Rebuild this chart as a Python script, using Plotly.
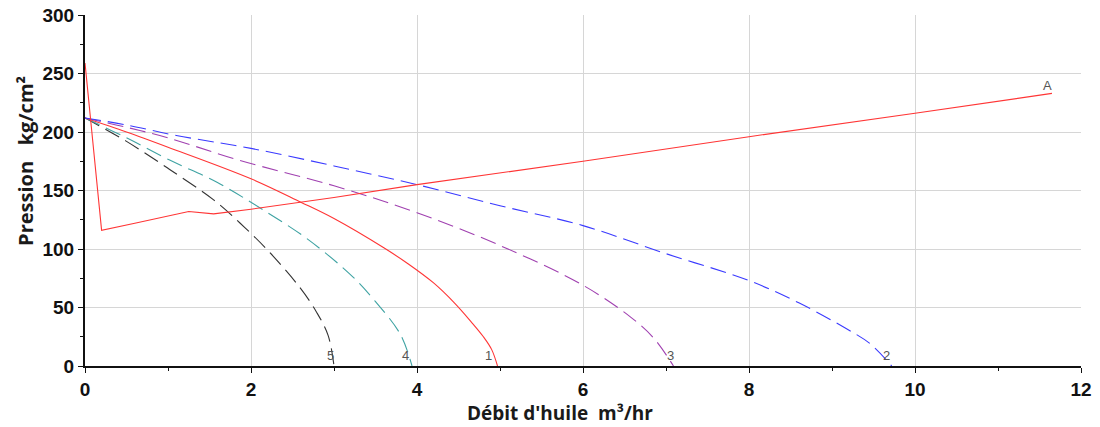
import plotly.graph_objects as go

# Curve 1 (red solid)
q1 = [0, 0.5, 1.0, 2.0, 2.6, 3.0, 3.6, 3.9, 4.2, 4.45, 4.65, 4.8, 4.9, 4.97]
p1 = [212, 200, 187, 160, 140, 126, 101, 87, 71, 54, 38, 25, 14, 0]
# Curve 2 (blue dashed)
q2 = [0, 0.5, 1.1, 2.0, 3.0, 4.0, 5.0, 6.0, 7.0, 8.0, 8.6, 9.17, 9.46, 9.72]
p2 = [212, 206, 197, 186, 171, 155, 137, 120, 96, 73, 54, 32, 19, 0]
# Curve 3 (purple dashed)
q3 = [0, 0.5, 1.0, 1.85, 3.0, 4.0, 5.0, 6.0, 6.57, 6.85, 7.09]
p3 = [212, 204, 195, 176, 154, 131, 103, 69, 42, 24, 0]
# Curve 4 (teal dashed)
q4 = [0, 0.5, 1.02, 1.59, 2.11, 2.69, 3.23, 3.5, 3.8, 3.94]
p4 = [212, 195, 176, 157, 135, 108, 76, 55, 27, 0]
# Curve 5 (black dashed)
q5 = [0, 0.5, 1.02, 1.55, 1.87, 2.2, 2.59, 2.79, 2.93, 3.0]
p5 = [212, 192, 168, 142, 122, 99, 67, 46, 26, 0]
# Curve A (red, system line)
qA = [0, 0.2, 0.6, 1.25, 1.55, 2.0, 3.0, 4.0, 6.0, 8.0, 10.0, 11.65]
pA = [259, 116, 122, 132, 130, 134, 144, 155, 175, 196, 216, 233]

label_text = ["5", "4", "1", "3", "2", "A"]
label_q = [2.96, 3.86, 4.86, 7.05, 9.66, 11.6]
label_p = [9, 9, 9, 9, 9, 240]

x_ticks = [0, 2, 4, 6, 8, 10, 12]
y_ticks = [0, 50, 100, 150, 200, 250, 300]

fig = go.Figure()
dash = "16px,7px"
sm = 1.0
fig.add_trace(go.Scatter(x=q5, y=p5, mode="lines", line=dict(color="#333333", width=1.1, dash=dash, shape="spline", smoothing=sm)))
fig.add_trace(go.Scatter(x=q4, y=p4, mode="lines", line=dict(color="#3fa3a3", width=1.1, dash=dash, shape="spline", smoothing=sm)))
fig.add_trace(go.Scatter(x=q1, y=p1, mode="lines", line=dict(color="#ff3535", width=1.1, shape="spline", smoothing=sm)))
fig.add_trace(go.Scatter(x=q3, y=p3, mode="lines", line=dict(color="#a040b0", width=1.1, dash=dash, shape="spline", smoothing=sm)))
fig.add_trace(go.Scatter(x=q2, y=p2, mode="lines", line=dict(color="#3a3aff", width=1.1, dash=dash, shape="spline", smoothing=sm)))
fig.add_trace(go.Scatter(x=qA, y=pA, mode="lines", line=dict(color="#ff3535", width=1.1)))

for t, xq, yp in zip(label_text, label_q, label_p):
    fig.add_annotation(x=xq, y=yp, text=t, showarrow=False,
                       font=dict(family="Liberation Sans", size=13, color="#555555"))

fig.add_annotation(xref="paper", yref="paper", x=0.477, y=-0.134, yanchor="middle",
                   text="Débit d'huile  m³/hr", showarrow=False,
                   font=dict(family="Open Sans", size=19, color="#1a1a1a", weight="bold"))
fig.add_annotation(xref="paper", yref="paper", x=-0.060, y=0.585, xanchor="center", yanchor="middle",
                   textangle=-90, text="Pression   kg/cm²", showarrow=False,
                   font=dict(family="Open Sans", size=20, color="#1a1a1a", weight="bold"))

axis_font = dict(family="Liberation Sans", size=19, color="#111111", weight="bold")
# page body has an 8px margin; figure sized so it fits the 1100x427 window
fig.update_layout(
    width=1092, height=419,
    margin=dict(l=77, r=19, t=7, b=61, autoexpand=False),
    paper_bgcolor="white", plot_bgcolor="white",
    showlegend=False,
    xaxis=dict(range=[0, 12], tickvals=x_ticks, showgrid=True, gridcolor="#d6d6d6", gridwidth=1,
               showline=True, linecolor="#111111", linewidth=2, ticks="outside", ticklen=5,
               tickcolor="#111111", tickfont=axis_font, zeroline=False, automargin=False,
               ticklabeloverflow="allow",
               minor=dict(dtick=1, ticks="outside", ticklen=3, tickcolor="#111111", showgrid=False)),
    yaxis=dict(range=[0, 300], tickvals=y_ticks, showgrid=True, gridcolor="#d6d6d6", gridwidth=1,
               showline=True, linecolor="#111111", linewidth=2, ticks="outside", ticklen=5,
               tickcolor="#111111", tickfont=axis_font, zeroline=False, automargin=False,
               ticklabeloverflow="allow",
               minor=dict(dtick=25, ticks="outside", ticklen=3, tickcolor="#111111", showgrid=False)),
)

fig.write_html("out.html")
